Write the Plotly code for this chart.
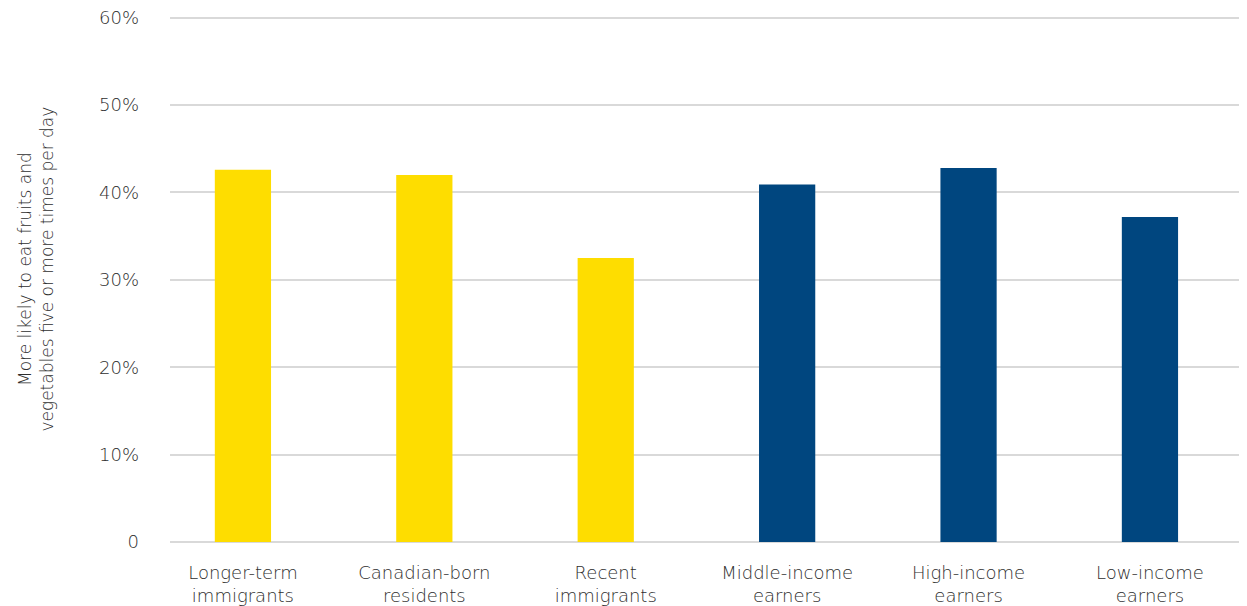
import plotly.graph_objects as go

categories = ["Longer-term<br>immigrants", "Canadian-born<br>residents", "Recent<br>immigrants",
              "Middle-income<br>earners", "High-income<br>earners", "Low-income<br>earners"]
values = [42.6, 42.0, 32.5, 40.9, 42.8, 37.2]
colors = ["#FEDD00", "#FEDD00", "#FEDD00", "#00467F", "#00467F", "#00467F"]
y_tickvals = [0, 10, 20, 30, 40, 50, 60]
y_ticktext = ["0", "10%", "20%", "30%", "40%", "50%", "60%"]

fig = go.Figure(go.Bar(x=list(range(len(categories))), y=values, marker_color=colors,
                       marker_line_width=0, width=0.31))

font = "'DejaVu Sans', sans-serif"
txt = "#2e2e2e"
fig.update_layout(
    width=1239, height=598,
    margin=dict(l=162, r=0, t=7.4, b=64),
    plot_bgcolor="white", paper_bgcolor="white",
    showlegend=False,
    font=dict(family=font, size=18, color=txt, weight=300),
    xaxis=dict(range=[-0.402, 5.535], tickvals=list(range(len(categories))), ticktext=categories,
               showgrid=False, zeroline=False, showline=False, ticks="",
               automargin=False, ticklabelstandoff=18, ticklabeloverflow="allow",
               tickfont=dict(size=18, color=txt, weight=300)),
    yaxis=dict(range=[0, 60.3], tickvals=y_tickvals, ticktext=y_ticktext,
               showgrid=True, gridcolor="#d9d9d9", gridwidth=2,
               zeroline=True, zerolinecolor="#d9d9d9", zerolinewidth=2,
               showline=False, ticks="", ticklabelstandoff=30, automargin=False,
               ticklabeloverflow="allow",
               tickfont=dict(size=18, color=txt, weight=300)),
    annotations=[dict(text="More likely to eat fruits and<br>vegetables five or more times per day",
                      xref="paper", yref="paper", x=-0.1253, y=0.517, textangle=-90,
                      xanchor="center", yanchor="middle", showarrow=False,
                      font=dict(size=17, color=txt, weight=300))],
)

fig.write_html("out.html")
